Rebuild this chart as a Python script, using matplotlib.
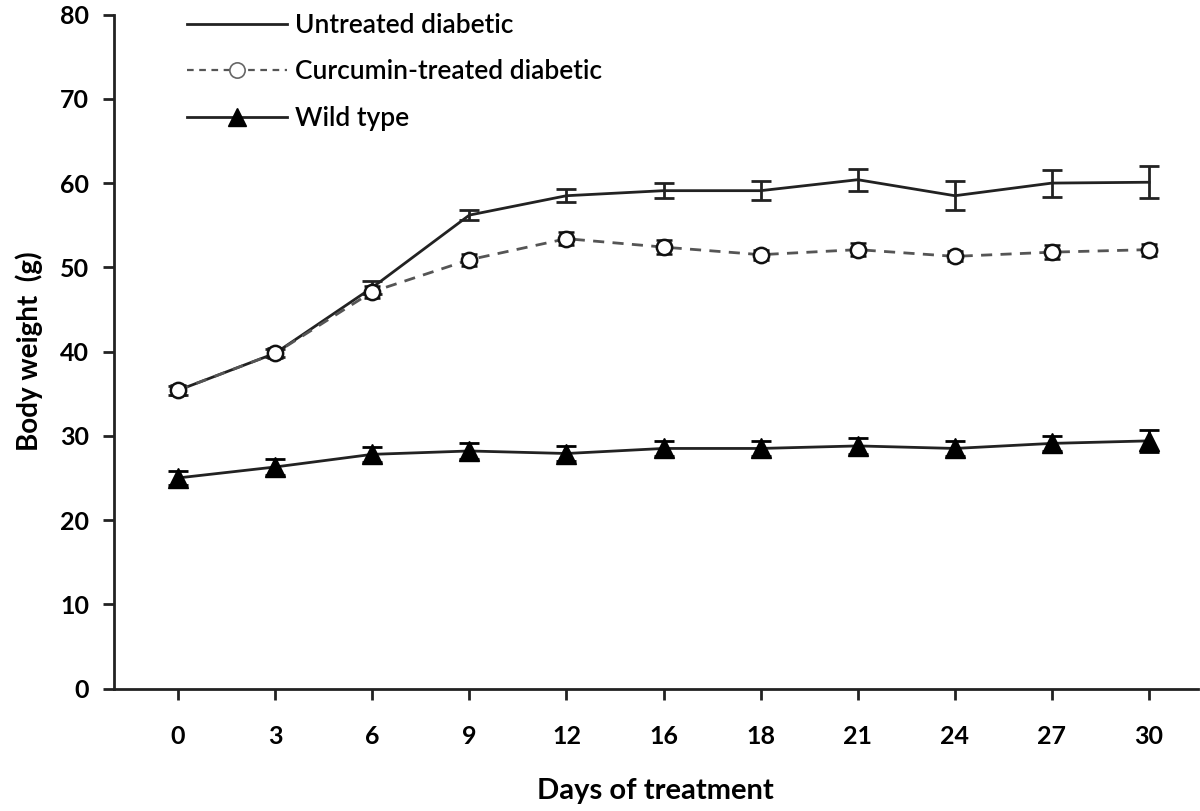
import numpy as np
import matplotlib.pyplot as plt
from matplotlib.lines import Line2D

days = ["0", "3", "6", "9", "12", "16", "18", "21", "24", "27", "30"]

untreated = [35.4, 39.8, 47.6, 56.2, 58.5, 59.1, 59.1, 60.4, 58.5, 60.0, 60.1]
untreated_err = [0.5, 0.5, 0.8, 0.6, 0.8, 0.9, 1.1, 1.3, 1.7, 1.6, 1.9]

curcumin = [35.4, 39.8, 47.1, 50.9, 53.4, 52.4, 51.5, 52.1, 51.3, 51.8, 52.1]
curcumin_err = [0.6, 0.6, 0.7, 0.7, 0.8, 0.8, 0.6, 0.8, 0.6, 0.8, 0.7]

wild = [25.0, 26.3, 27.8, 28.2, 27.9, 28.5, 28.5, 28.8, 28.5, 29.1, 29.4]
wild_err = [0.8, 0.9, 0.9, 0.9, 0.9, 0.9, 0.9, 0.9, 0.9, 0.9, 1.3]

plt.rcParams['font.family'] = ['Lato', 'DejaVu Sans']

x = np.arange(len(days))

fig = plt.figure(figsize=(12, 8.11), dpi=100)
ax = fig.add_axes([0.095, 0.151, 0.903, 0.831])

ax.errorbar(x, untreated, yerr=untreated_err, color='#222222', lw=2,
            capsize=7, capthick=2, elinewidth=2)
ax.errorbar(x, curcumin, yerr=curcumin_err, color='#555555', ls=(0, (4, 3)), lw=2,
            marker='o', ms=11, mfc='white', mec='#111111', mew=1.8,
            ecolor='#111111', capsize=6, capthick=1.8, elinewidth=1.8)
ax.errorbar(x, wild, yerr=wild_err, color='#222222', lw=2,
            marker='^', ms=14, mfc='black', mec='black',
            ecolor='black', capsize=7, capthick=2, elinewidth=2)

ax.set_xlim(-0.66, 10.5)
ax.set_ylim(0, 80)
ax.set_xticks(x)
ax.set_xticklabels(days)
ax.set_yticks(np.arange(0, 81, 10))

for s in ['top', 'right']:
    ax.spines[s].set_visible(False)
for s in ['left', 'bottom']:
    ax.spines[s].set_linewidth(2)
    ax.spines[s].set_color('#222222')

ax.tick_params(axis='both', direction='out', length=8, width=2, color='#222222',
               labelsize=18)
ax.tick_params(axis='x', pad=18)
ax.tick_params(axis='y', pad=10)
for lab in ax.get_xticklabels() + ax.get_yticklabels():
    lab.set_fontweight('bold')

ax.set_xlabel('Days of treatment', fontsize=21, fontweight='bold', labelpad=22)
ax.set_ylabel('Body weight  (g)', fontsize=20, fontweight='bold', labelpad=12)

handles = [
    Line2D([], [], color='#222222', lw=2),
    Line2D([], [], color='#555555', ls=(0, (3, 2.5)), lw=1.6, marker='o', ms=11,
           mfc='white', mec='#666666', mew=1.2),
    Line2D([], [], color='#222222', lw=2, marker='^', ms=13, mfc='black', mec='black'),
]
labels = ['Untreated diabetic', 'Curcumin-treated diabetic', 'Wild type']
ax.legend(handles, labels, loc='upper left', bbox_to_anchor=(0.045, 1.038),
          frameon=False, handlelength=3.8, handletextpad=0.3,
          labelspacing=0.82, prop={'weight': 'semibold', 'size': 19})

fig.savefig('out.png', dpi=100, facecolor='white')
